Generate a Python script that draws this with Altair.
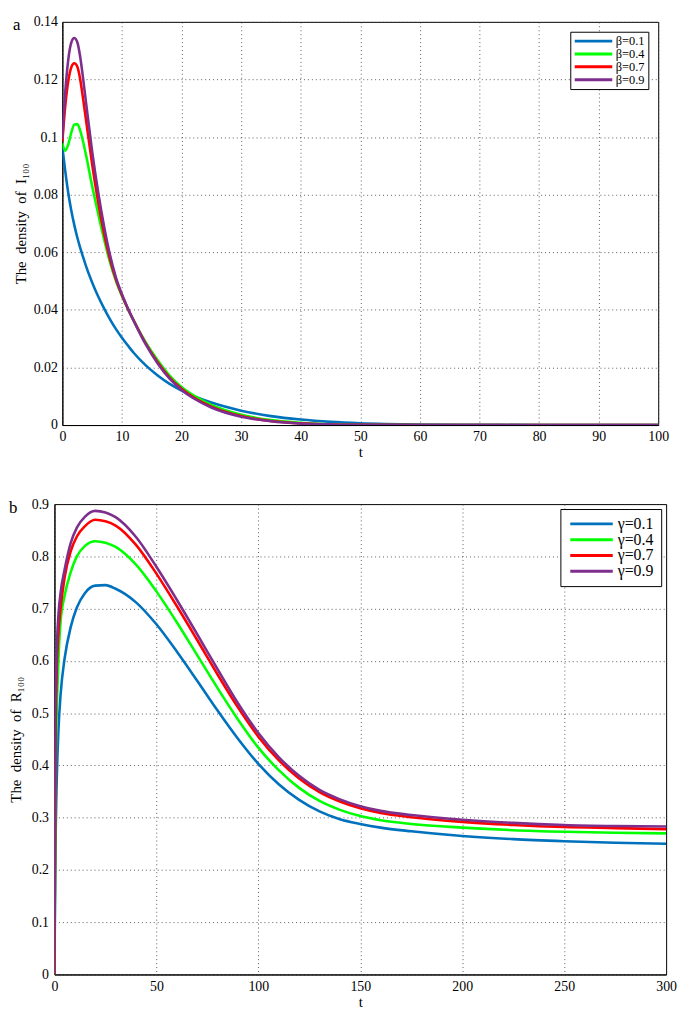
import altair as alt
import pandas as pd

# ---------------- Panel a data: density of I_100 ----------------
t_a = [0, 0.5, 1, 1.5, 2, 2.5, 3, 3.5, 4, 5, 6, 7, 8, 9, 10, 11, 12, 14, 16, 18,
       20, 22, 25, 30, 35, 40, 45, 50, 60, 70, 80, 90, 100]
i_beta01 = [0.0965, 0.0880, 0.0805, 0.0745, 0.0695, 0.0652, 0.0615, 0.0582, 0.0550,
            0.0495, 0.0447, 0.0405, 0.0367, 0.0333, 0.0303, 0.0276, 0.0250, 0.0207,
            0.0172, 0.0143, 0.0120, 0.0101, 0.0078, 0.0050, 0.0031, 0.0019, 0.0011,
            0.0006, 0.0002, 0.0001, 0.0, 0.0, 0.0]
i_beta04 = [0.0978, 0.0953, 0.0975, 0.1015, 0.1043, 0.1045, 0.1022, 0.0982, 0.0935,
            0.0830, 0.0735, 0.0645, 0.0565, 0.0500, 0.0448, 0.0403, 0.0362, 0.0287,
            0.0225, 0.0172, 0.0132, 0.0103, 0.0070, 0.0036, 0.0017, 0.0008, 0.0003,
            0.0001, 0.0, 0.0, 0.0, 0.0, 0.0]
i_beta07 = [0.0985, 0.1110, 0.1195, 0.1242, 0.1256, 0.1245, 0.1200, 0.1130, 0.1055,
            0.0905, 0.0775, 0.0665, 0.0575, 0.0505, 0.0451, 0.0404, 0.0362, 0.0283,
            0.0218, 0.0165, 0.0126, 0.0096, 0.0064, 0.0031, 0.0014, 0.0006, 0.0002,
            0.0001, 0.0, 0.0, 0.0, 0.0, 0.0]
i_beta09 = [0.0994, 0.1160, 0.1270, 0.1328, 0.1344, 0.1330, 0.1278, 0.1200, 0.1115,
            0.0950, 0.0810, 0.0690, 0.0590, 0.0512, 0.0454, 0.0405, 0.0361, 0.0280,
            0.0214, 0.0161, 0.0122, 0.0093, 0.0061, 0.0029, 0.0013, 0.0005, 0.0002,
            0.0001, 0.0, 0.0, 0.0, 0.0, 0.0]
beta_labels = ["β=0.1", "β=0.4", "β=0.7", "β=0.9"]

# ---------------- Panel b data: density of R_100 ----------------
t_b = [0, 0.5, 1, 2, 3, 5, 8, 11, 15, 20, 25, 30, 40, 50, 60, 70, 80, 90, 100,
       110, 120, 130, 140, 150, 160, 175, 200, 225, 250, 275, 300]
r_gamma01 = [0, 0.24, 0.35, 0.47, 0.535, 0.605, 0.665, 0.702, 0.730, 0.744, 0.745,
             0.738, 0.712, 0.670, 0.618, 0.562, 0.505, 0.451, 0.403, 0.364, 0.334,
             0.312, 0.297, 0.288, 0.281, 0.274, 0.265, 0.259, 0.255, 0.252, 0.250]
r_gamma04 = [0, 0.36, 0.48, 0.605, 0.675, 0.725, 0.770, 0.800, 0.820, 0.829, 0.826,
             0.818, 0.784, 0.733, 0.674, 0.611, 0.548, 0.488, 0.434, 0.391, 0.357,
             0.332, 0.315, 0.303, 0.295, 0.288, 0.281, 0.276, 0.273, 0.271, 0.270]
r_gamma07 = [0, 0.44, 0.56, 0.655, 0.700, 0.760, 0.810, 0.838, 0.858, 0.870, 0.867,
             0.859, 0.822, 0.767, 0.705, 0.640, 0.574, 0.511, 0.455, 0.410, 0.375,
             0.349, 0.331, 0.318, 0.309, 0.301, 0.292, 0.286, 0.282, 0.280, 0.278]
r_gamma09 = [0, 0.48, 0.60, 0.690, 0.730, 0.775, 0.826, 0.855, 0.876, 0.887, 0.884,
             0.875, 0.837, 0.780, 0.717, 0.651, 0.584, 0.519, 0.462, 0.416, 0.380,
             0.353, 0.335, 0.322, 0.313, 0.305, 0.296, 0.290, 0.286, 0.284, 0.283]
gamma_labels = ["γ=0.1", "γ=0.4", "γ=0.7", "γ=0.9"]

colors = ["#0072BD", "#00FF00", "#FF0000", "#7E2F8E"]

xa_ticks = list(range(0, 101, 10))
ya_ticks = [0, 0.02, 0.04, 0.06, 0.08, 0.1, 0.12, 0.14]
xb_ticks = list(range(0, 301, 50))
yb_ticks = [0, 0.1, 0.2, 0.3, 0.4, 0.5, 0.6, 0.7, 0.8, 0.9]

SERIF = "Liberation Serif"
NB = "\u00a0\u00a0"


def long_table(ts, series, labels):
    rows = []
    for k, (lab, vals) in enumerate(zip(labels, series)):
        for t, v in zip(ts, vals):
            rows.append({"t": t, "v": v, "s": lab, "k": k})
    return pd.DataFrame(rows)


df_a = long_table(t_a, [i_beta01, i_beta04, i_beta07, i_beta09], beta_labels)
df_b = long_table(t_b, [r_gamma01, r_gamma04, r_gamma07, r_gamma09], gamma_labels)


def panel(df, labels, xdom, ydom, xticks, yticks, ytitle, w, h, letter,
          letter_x, letter_y, leg_font, leg_path, leg_label_off, leg_offset, leg_pad,
          y_title_pad, y_label_pad):
    lines = alt.Chart(df).mark_line(strokeWidth=2.6, interpolate="monotone", clip=True).encode(
        x=alt.X("t:Q", scale=alt.Scale(domain=xdom, nice=False, zero=False),
                axis=alt.Axis(values=xticks, title="t", format="~r")),
        y=alt.Y("v:Q", scale=alt.Scale(domain=ydom, nice=False),
                axis=alt.Axis(values=yticks, title=ytitle, format="~r",
                              titlePadding=y_title_pad, labelPadding=y_label_pad)),
        color=alt.Color("s:N", scale=alt.Scale(domain=labels, range=colors),
                        legend=alt.Legend(
                            title=None, orient="top-right", offset=leg_offset,
                            strokeColor="black", fillColor="white", padding=leg_pad,
                            cornerRadius=0,
                            symbolType=leg_path, symbolSize=100,
                            symbolStrokeWidth=3, symbolOffset=0,
                            labelFont=SERIF, labelFontSize=leg_font,
                            labelColor="black", labelOffset=leg_label_off,
                            rowPadding=0)),
        order=alt.Order("k:Q"),
    )
    tag = alt.Chart(pd.DataFrame({"lab": [letter]})).mark_text(
        font=SERIF, fontSize=17, align="left", baseline="alphabetic", color="black"
    ).encode(text="lab:N", x=alt.value(letter_x), y=alt.value(letter_y))
    return alt.layer(lines, tag).properties(width=w, height=h)


chart_a = panel(df_a, beta_labels, [0, 100], [0, 0.14], xa_ticks, ya_ticks,
                "The" + NB + "density" + NB + "of" + NB + "I₁₀₀", 603, 408, "a", -50, 8,
                12.5, "M-1,0H6.6", 30, 10, 3, 5, 5)
chart_b = panel(df_b, gamma_labels, [0, 300], [0, 0.9], xb_ticks, yb_ticks,
                "The" + NB + "density" + NB + "of" + NB + "R₁₀₀", 619, 476, "b", -46, 9,
                16, "M-1,0H7.6", 35, 5, 7, 8, 6)

chart = alt.concat(chart_a, chart_b, columns=1, center=True, spacing=36).resolve_scale(
    color="independent"
).resolve_legend(
    color="independent"
).properties(
    padding=0
).configure_view(
    stroke="black", strokeWidth=1
).configure_axis(
    labelFont=SERIF, labelFontSize=14, labelColor="black",
    titleFont=SERIF, titleFontSize=15, titleFontWeight="normal", titleColor="black",
    domainColor="black", domainWidth=1, ticks=False, labelPadding=6,
    grid=True, gridColor="#333333", gridDash=[1, 3], gridWidth=1, gridOpacity=0.8,
    titlePadding=5
).configure_axisX(
    labelPadding=5, titlePadding=1, labelFlush=False
)

chart.save("out.html", embed_options={"renderer": "svg", "actions": False})
